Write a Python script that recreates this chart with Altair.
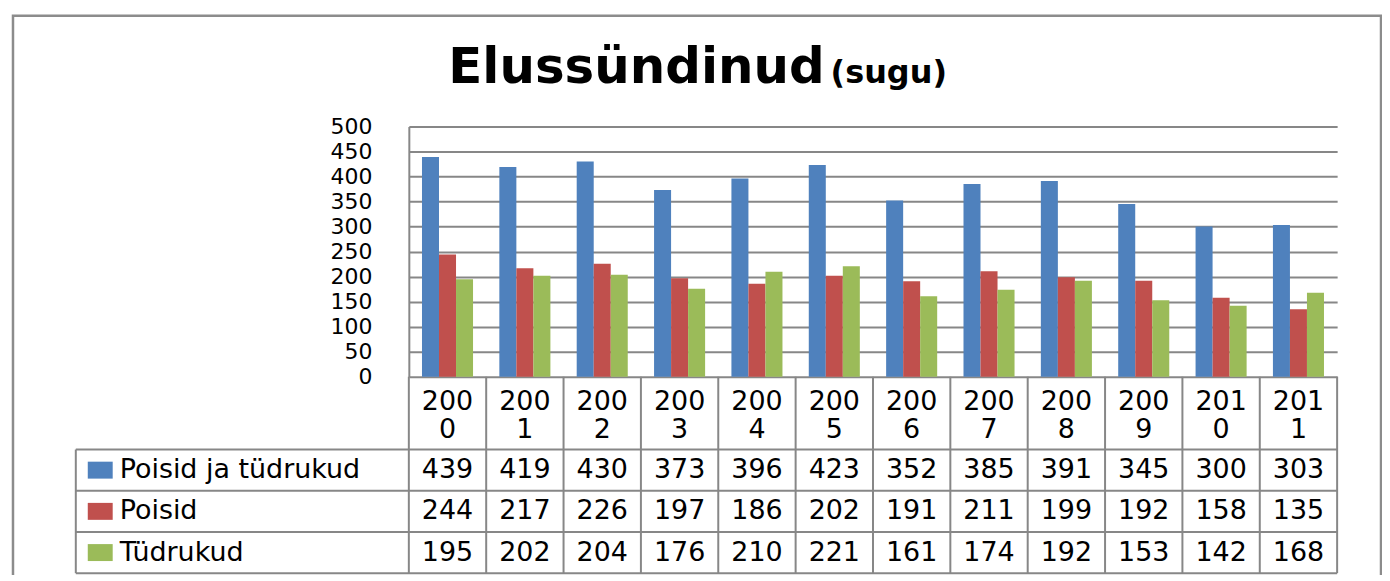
import altair as alt
import pandas as pd

years = ["2000", "2001", "2002", "2003", "2004", "2005", "2006", "2007", "2008", "2009", "2010", "2011"]
series = ["Poisid ja tüdrukud", "Poisid", "Tüdrukud"]
total = [439, 419, 430, 373, 396, 423, 352, 385, 391, 345, 300, 303]
boys = [244, 217, 226, 197, 186, 202, 191, 211, 199, 192, 158, 135]
girls = [195, 202, 204, 176, 210, 221, 161, 174, 192, 153, 142, 168]
colors = ["#4F81BD", "#C0504D", "#9BBB59"]
y_ticks = [0, 50, 100, 150, 200, 250, 300, 350, 400, 450, 500]

rows = []
for s, vals in zip(series, [total, boys, girls]):
    for y, v in zip(years, vals):
        rows.append({"year": y, "series": s, "value": v})
df = pd.DataFrame(rows)
years_df = pd.DataFrame({"year": years})
series_df = pd.DataFrame({"series": series})

FONT = "DejaVu Sans"
LINE = "#878787"
W, H = 931, 251
ROW_TOP, ROW_BOTTOM = 324, 448
LEFT_COL = -334
TFS = 27

xscale = alt.Scale(domain=years, paddingInner=0, paddingOuter=0)
tscale = alt.Scale(domain=series, range=[ROW_TOP, ROW_BOTTOM], paddingInner=0, paddingOuter=0)
cscale = alt.Scale(domain=series, range=colors)

bars = alt.Chart(df).mark_bar().encode(
    x=alt.X("year:N", scale=xscale, axis=None, sort=years),
    xOffset=alt.XOffset("series:N", scale=alt.Scale(domain=series, paddingOuter=0.773, paddingInner=0)),
    y=alt.Y("value:Q", scale=alt.Scale(domain=[0, 500], nice=False),
            axis=alt.Axis(values=y_ticks, title=None, grid=True, gridColor=LINE, gridWidth=2,
                          domainColor=LINE, domainWidth=2, ticks=False, labelPadding=37,
                          labelFontSize=22, labelFont=FONT, labelColor="black",
                          labelOverlap=False, labelFlush=False)),
    color=alt.Color("series:N", scale=cscale, legend=None),
)

# table: header year labels (two lines each)
header = alt.Chart(years_df).transform_calculate(
    label="substring(datum.year, 0, 3) + '\\n' + substring(datum.year, 3)"
).mark_text(font=FONT, fontSize=TFS, lineBreak="\n", lineHeight=28, baseline="middle", color="black").encode(
    x=alt.X("year:N", scale=xscale, axis=None),
    y=alt.value(276),
    text="label:N",
)

cells = alt.Chart(df).mark_text(font=FONT, fontSize=TFS, baseline="middle", color="black").encode(
    x=alt.X("year:N", scale=xscale, axis=None),
    y=alt.Y("series:N", scale=tscale, axis=None),
    text="value:Q",
)

swatch = alt.Chart(series_df).mark_bar(size=17).encode(
    y=alt.Y("series:N", scale=tscale, axis=None),
    x=alt.value(-322),
    x2=alt.value(-297),
    color=alt.Color("series:N", scale=cscale, legend=None),
)

labels = alt.Chart(series_df).mark_text(font=FONT, fontSize=TFS, align="left", baseline="middle", color="black").encode(
    y=alt.Y("series:N", scale=tscale, axis=None),
    x=alt.value(-290),
    text="series:N",
)

vlines = alt.Chart(years_df).mark_rule(color=LINE, strokeWidth=2).encode(
    x=alt.X("year:N", scale=xscale, axis=None, bandPosition=0),
    y=alt.value(H),
    y2=alt.value(ROW_BOTTOM),
)
vright = alt.Chart(years_df.tail(1)).mark_rule(color=LINE, strokeWidth=2).encode(
    x=alt.X("year:N", scale=xscale, axis=None, bandPosition=1),
    y=alt.value(H),
    y2=alt.value(ROW_BOTTOM),
)
vleft = alt.Chart(series_df.head(1)).mark_rule(color=LINE, strokeWidth=2).encode(
    x=alt.value(LEFT_COL),
    y=alt.value(ROW_TOP),
    y2=alt.value(ROW_BOTTOM),
)
hlines = alt.Chart(series_df).mark_rule(color=LINE, strokeWidth=2).encode(
    y=alt.Y("series:N", scale=tscale, axis=None, bandPosition=0),
    x=alt.value(LEFT_COL),
    x2=alt.value(W),
)
hbottom = alt.Chart(series_df.tail(1)).mark_rule(color=LINE, strokeWidth=2).encode(
    y=alt.Y("series:N", scale=tscale, axis=None, bandPosition=1),
    x=alt.value(LEFT_COL),
    x2=alt.value(W),
)

frame = alt.Chart(series_df.head(1)).mark_rect(fill=None, stroke="#8c8c8c", strokeWidth=2.5).encode(
    x=alt.value(-397), x2=alt.value(975), y=alt.value(-111), y2=alt.value(520),
)

title1 = alt.Chart(series_df.head(1)).mark_text(
    text="Elussündinud", font=FONT, fontSize=50, fontWeight="bold", align="right", baseline="alphabetic", color="black"
).encode(x=alt.value(417), y=alt.value(-44))
title2 = alt.Chart(series_df.head(1)).mark_text(
    text="(sugu)", font=FONT, fontSize=32, fontWeight="bold", align="left", baseline="alphabetic", color="black"
).encode(x=alt.value(423), y=alt.value(-44))

chart = alt.layer(
    frame, bars, vlines, vright, vleft, hlines, hbottom, header, cells, swatch, labels, title1, title2
).resolve_scale(y="independent").properties(
    width=W, height=H,
    padding={"left": 402, "top": 118, "right": 45, "bottom": 198},
    autosize=alt.AutoSizeParams(type="none"),
).configure_view(stroke=None)

chart.save("out.html", embed_options={"renderer": "svg", "actions": False})
